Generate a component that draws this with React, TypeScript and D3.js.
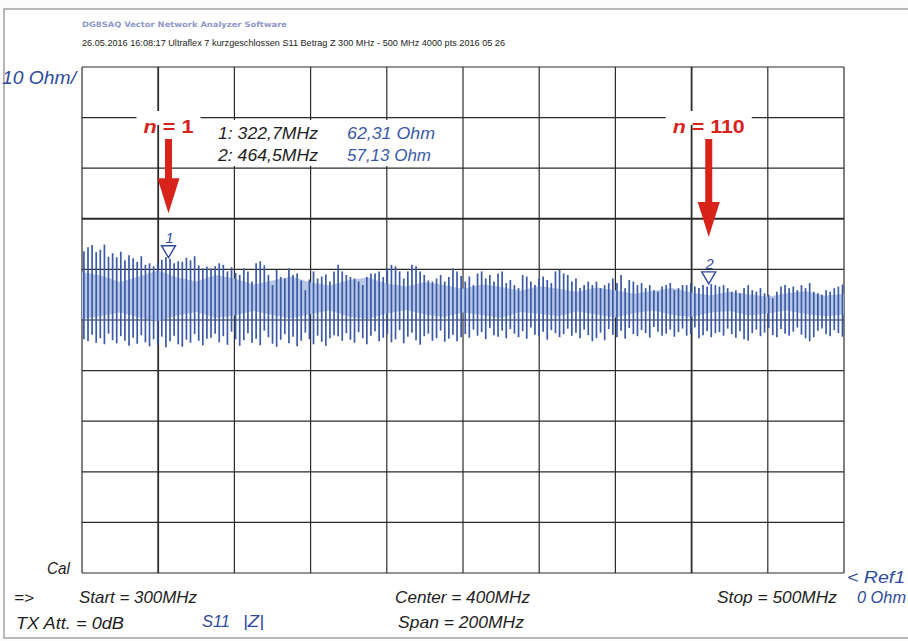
import React from 'react'
import * as d3 from 'd3'

// Sweep 300..500 MHz, |Z| in Ohm, 10 Ohm/div
const freqStart = 300
const freqStop = 500
const ohmMax = 100

const xTicks = [300, 320, 340, 360, 380, 400, 420, 440, 460, 480, 500]
const yTicks = [0, 10, 20, 30, 40, 50, 60, 70, 80, 90, 100]

// upper ends of the resonance spikes (Ohm), left to right
const spikeTop = [
  63.6, 64.4, 64.8, 63.4, 63.9, 64.9, 62.5, 63.2, 62.4, 63.5, 61.8, 62.8, 62.2, 61.5, 62.6, 60.9, 61.2, 60.6, 61.3, 61.9, 62.4, 62.1, 61.2, 61.6, 61.5, 62.3, 61.8, 62.6, 60.8, 60.2, 60.5,
  60.2, 60.6, 61.2, 60.9, 59.6, 60.4, 59.3, 58.9, 60.2, 59.6, 57.6, 61.2, 61.6, 60.8, 58.9, 56.9, 59.9, 58.5, 58.2, 60.2, 58.9, 59.2, 57.8, 55.9, 58.0, 59.6, 58.2, 58.6, 59.0, 57.6, 59.6,
  60.9, 59.6, 58.9, 58.5, 58.2, 57.6, 56.9, 58.5, 59.2, 59.2, 59.6, 58.5, 60.2, 60.9, 60.6, 59.6, 58.2, 59.6, 60.9, 60.6, 59.6, 58.9, 57.8, 57.6, 58.2, 58.9, 57.6, 58.5, 60.2, 59.6, 58.7,
  57.6, 58.6, 56.9, 59.2, 59.6, 58.2, 58.9, 57.6, 59.2, 59.6, 57.3, 57.9, 56.9, 56.3, 58.9, 58.6, 57.6, 56.9, 58.2, 58.6, 57.9, 57.3, 59.6, 59.9, 59.2, 58.9, 57.6, 58.2, 56.3, 56.9, 57.6,
  56.9, 57.6, 56.3, 56.9, 57.3, 58.2, 57.3, 58.9, 56.3, 57.9, 57.6, 56.9, 57.3, 56.3, 56.9, 55.9, 55.6, 56.6, 56.9, 57.3, 55.9, 56.3, 56.9, 56.9, 57.3, 56.6, 56.3, 56.9, 56.6, 57.1, 56.9,
  56.6, 56.9, 56.3, 55.6, 55.9, 55.3, 56.3, 56.9, 55.9, 55.6, 56.3, 55.3, 55.0, 54.3, 55.6, 56.6, 56.9, 56.3, 56.6, 55.9, 56.9, 56.3, 57.3, 55.6, 55.3, 55.0, 55.9, 55.6, 56.3, 56.6, 57.0
]

// lower ends of the spikes (Ohm)
const spikeBottom = [
  46.2, 45.8, 47.1, 45.5, 46.4, 45.2, 47.3, 46.0, 45.4, 46.8, 45.9, 44.9, 46.5, 45.3, 47.0, 45.6, 44.8, 46.2, 45.1, 46.7, 44.6, 45.8, 46.9, 45.2, 44.7, 46.1, 45.5, 47.2, 45.9, 45.0, 46.3,
  46.5, 47.3, 45.6, 46.8, 45.1, 47.7, 46.2, 44.9, 46.0, 47.4, 45.5, 46.3, 45.0, 47.9, 46.6, 45.3, 44.7, 46.1, 47.2, 45.4, 46.7, 44.8, 45.9, 47.5, 46.2, 45.2, 46.9, 45.7, 44.9, 46.4, 47.0,
  46.8, 45.9, 47.4, 46.1, 45.5, 47.6, 46.4, 45.2, 46.9, 47.8, 45.8, 46.5, 47.2, 45.6, 46.2, 48.0, 45.4, 46.7, 47.5, 46.0, 45.1, 46.8, 47.3, 45.9, 46.4, 47.9, 45.7, 46.3, 47.1, 45.8, 46.6,
  47.2, 46.5, 48.1, 46.9, 47.6, 46.2, 48.4, 47.0, 46.7, 47.9, 46.4, 48.2, 47.3, 46.6, 47.8, 46.3, 48.5, 47.1, 46.8, 47.7, 46.1, 48.0, 47.4, 46.6, 47.2, 48.3, 46.9, 47.5, 46.4, 48.1, 47.0,
  45.8, 46.4, 47.5, 46.0, 48.2, 47.1, 46.6, 47.9, 46.3, 48.4, 47.2, 46.8, 48.0, 47.4, 46.5, 48.6, 47.7, 46.9, 47.3, 48.1, 46.7, 47.6, 48.3, 46.9, 47.2, 48.5, 46.4, 47.0, 47.8, 46.6, 47.4,
  47.6, 46.9, 48.3, 47.2, 46.5, 47.8, 46.2, 45.9, 47.4, 48.1, 46.8, 47.5, 48.4, 47.0, 46.6, 48.2, 47.3, 46.9, 47.7, 48.5, 47.1, 46.4, 45.8, 46.6, 47.9, 48.3, 47.2, 46.8, 48.0, 47.4, 46.7
]

// light, densely filled part of the trace, every 5 MHz (Ohm)
const bandTop = [
  59.5, 58.8, 57.5, 58.6, 59.8, 58.4, 57.6, 58.9, 58.2, 57.0, 57.8, 58.6, 57.4, 56.8, 57.9, 58.4, 57.2, 56.6, 57.5, 56.9, 56.2,
  57.0, 56.5, 55.8, 56.7, 56.2, 55.6, 56.4, 55.9, 55.2, 55.8, 56.3, 55.4, 54.9, 55.6, 55.1, 54.6, 55.3, 55.7, 54.8, 55.2
]
const bandBottom = [
  50.2, 50.8, 51.5, 50.5, 49.8, 50.9, 51.6, 50.4, 50.9, 51.8, 51.0, 50.3, 51.2, 51.9, 50.7, 50.2, 51.3, 52.0, 51.1, 50.6, 51.5,
  51.0, 50.4, 51.6, 51.2, 50.8, 51.7, 51.1, 50.5, 51.4, 51.9, 51.0, 50.6, 51.5, 51.8, 50.9, 51.3, 51.9, 51.2, 50.7, 51.1
]

const markers = [
  { id: '1', freq: 322.7, ohm: 62.31, freqLabel: '1: 322,7MHz', ohmLabel: '62,31 Ohm' },
  { id: '2', freq: 464.5, ohm: 57.13, freqLabel: '2:  464,5MHz', ohmLabel: '57,13 Ohm' }
]

// red callouts: arrow tip level in Ohm
const arrows = [
  { n: '1', freq: 322.7, tip: 71.1, w: 50 },
  { n: '110', freq: 464.5, tip: 66.4, w: 72 }
]

const blue = '#2f4b9c'
const red = '#d8231b'
const font = "'Liberation Sans Narrow', 'Liberation Sans', Arial, sans-serif"

const Txt = (props) => (
  <text
    x={props.x}
    y={props.y}
    fontFamily={font}
    fontStyle={props.upright ? 'normal' : 'italic'}
    fontSize={props.size || 16}
    fill={props.color || '#1e1e1e'}
    textLength={props.w}
    lengthAdjust="spacingAndGlyphs"
  >
    {props.children}
  </text>
)

const App = () => {
  const left = 82, right = 844, top = 67, bottom = 573

  const x = d3.scaleLinear().domain([freqStart, freqStop]).range([left, right])
  const y = d3.scaleLinear().domain([0, ohmMax]).range([bottom, top])

  // spikes are evenly spaced over the sweep
  const spikeFreq = d3.scaleLinear().domain([0, spikeTop.length - 1]).range([300.5, 499.6])
  const bandFreq = d3.scaleLinear().domain([0, bandTop.length - 1]).range([freqStart, freqStop])

  const band = d3.area()
    .x((d, i) => x(bandFreq(i)))
    .y0((d, i) => y(bandBottom[i]))
    .y1((d) => y(d))

  return (
    <svg width={908} height={641} style={{ position: 'absolute', left: 0, top: 0, background: '#fcfcfc' }}>
      <rect x={4} y={9} width={910} height={629} fill="#fff" stroke="#8a8a8a" strokeWidth={1.2} />

      {/* header */}
      <text x={82} y={27} fontFamily="'DejaVu Sans', sans-serif" fontSize={7.5} fontWeight="bold" fill="#8d97c9" textLength={205} lengthAdjust="spacingAndGlyphs">
        DG8SAQ Vector Network Analyzer Software
      </text>
      <text x={82} y={46} fontFamily="'Liberation Sans Narrow', Arial, sans-serif" fontSize={9} fill="#222" textLength={423} lengthAdjust="spacingAndGlyphs">
        26.05.2016   16:08:17   Ultraflex 7 kurzgeschlossen S11 Betrag Z 300 MHz - 500 MHz 4000 pts 2016 05 26
      </text>

      {/* grid */}
      {xTicks.map((t) => (
        <line key={'x' + t} x1={x(t)} x2={x(t)} y1={top} y2={bottom} stroke="#2b2b2b" strokeWidth={t === 320 || t === 460 ? 1.8 : 1.2} />
      ))}
      {yTicks.map((t) => (
        <line key={'y' + t} x1={left} x2={right} y1={y(t)} y2={y(t)} stroke="#2b2b2b" strokeWidth={t === 70 ? 2 : 1.2} />
      ))}

      {/* trace */}
      <path d={band(bandTop)} fill="#b9c7e7" />
      {spikeTop.map((v, i) => (
        <line key={'s' + i} x1={x(spikeFreq(i))} x2={x(spikeFreq(i))} y1={y(v)} y2={y(spikeBottom[i])} stroke="#3a5aa6" strokeWidth={1.7} />
      ))}

      {/* markers */}
      {markers.map((m) => {
        const mx = x(m.freq), my = y(m.ohm)
        return (
          <g key={m.id}>
            <path d={`M${mx - 7},${my - 12}L${mx + 7},${my - 12}L${mx},${my}Z`} fill="#fff" stroke={blue} strokeWidth={1.4} />
            <Txt x={mx - 3} y={my - 15} size={14} color={blue} w={8}>{m.id}</Txt>
          </g>
        )
      })}

      {/* marker readout */}
      <rect x={212} y={120} width={230} height={46} fill="#fff" />
      {markers.map((m, i) => (
        <g key={'r' + m.id}>
          <Txt x={218} y={139 + i * 22} size={17} w={100}>{m.freqLabel}</Txt>
          <Txt x={347} y={139 + i * 22} size={17} color="#3a5aa8" w={i === 0 ? 88 : 84}>{m.ohmLabel}</Txt>
        </g>
      ))}

      {/* red annotations */}
      {arrows.map((a) => {
        const ax = x(a.freq)
        const tipY = y(a.tip)
        return (
          <g key={'a' + a.n}>
            <rect x={ax - a.w / 2 - 7} y={111} width={a.w + 14} height={14} fill="#fff" />
            <text x={ax} y={133} textAnchor="middle" fontFamily="'Liberation Sans', Arial, sans-serif" fontWeight="bold" fontSize={18} fill={red} textLength={a.w} lengthAdjust="spacingAndGlyphs">
              <tspan fontStyle="italic">n</tspan> = {a.n}
            </text>
            <rect x={ax - 3.5} y={139} width={7} height={tipY - 139 - 32} fill={red} />
            <path d={`M${ax - 11},${tipY - 35}L${ax + 11},${tipY - 35}L${ax},${tipY}Z`} fill={red} />
          </g>
        )
      })}

      {/* scale labels */}
      <Txt x={2} y={84} size={18} color={blue} w={74}>10 Ohm/</Txt>
      <Txt x={47} y={574} size={16} w={23}>Cal</Txt>
      <Txt x={847} y={583} size={16} color={blue} w={58}>{'< Ref1'}</Txt>

      {/* footer */}
      <Txt x={14} y={603} size={15} w={20}>{'=>'}</Txt>
      <Txt x={79} y={603} size={17} w={118}>Start = 300MHz</Txt>
      <Txt x={395} y={603} size={17} w={135}>Center = 400MHz</Txt>
      <Txt x={717} y={603} size={17} w={120}>Stop = 500MHz</Txt>
      <Txt x={857} y={603} size={17} color={blue} w={49}>0 Ohm</Txt>
      <Txt x={16} y={629} size={17} w={108}>TX Att. = 0dB</Txt>
      <Txt x={202} y={627} size={17} color={blue} w={28}>S11</Txt>
      <Txt x={243} y={627} size={17} color={blue} w={21}>|Z|</Txt>
      <Txt x={398} y={628} size={17} w={126}>Span = 200MHz</Txt>
    </svg>
  )
}

export default App
